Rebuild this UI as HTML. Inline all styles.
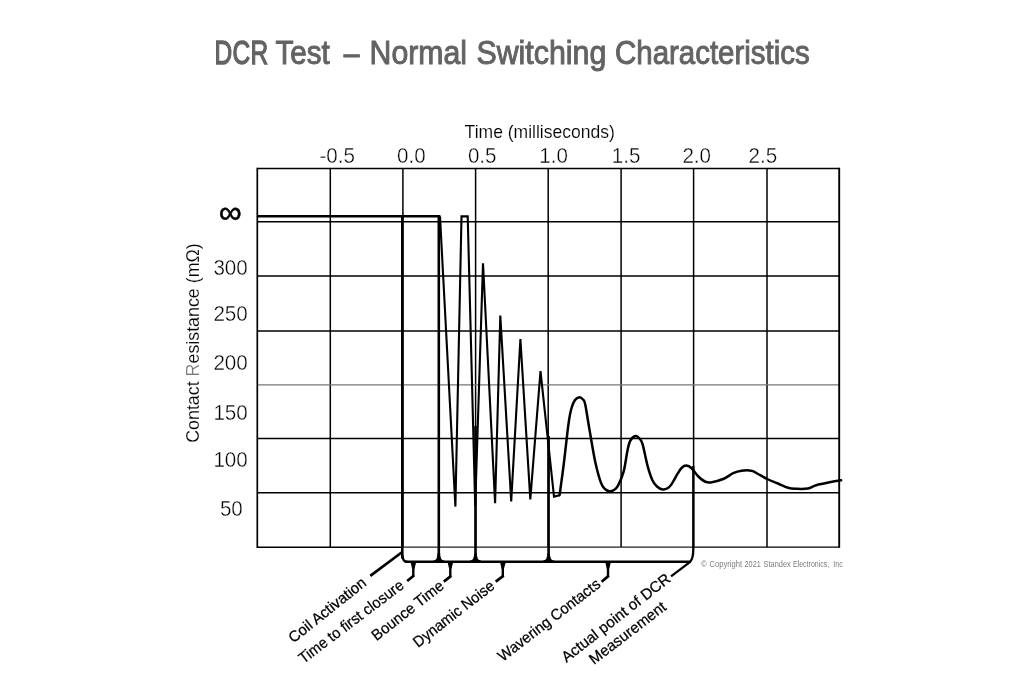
<!DOCTYPE html>
<html lang="en"><head><meta charset="utf-8"><title>DCR Test – Normal Switching Characteristics</title>
<style>html,body{margin:0;padding:0;background:#fff}body{width:1024px;height:683px;overflow:hidden}svg{display:block}text{font-family:"Liberation Sans",Arial,Helvetica,sans-serif}</style>
</head><body>
<svg width="1024" height="683" viewBox="0 0 1024 683">
<rect width="1024" height="683" fill="#fff"/>
<g id="title" fill="#636363" stroke="#636363" stroke-width="1.0" font-size="34">
<text stroke-width="1.35" transform="translate(214.5 64.0) scale(0.72 1)" textLength="74.7" lengthAdjust="spacing">DCR</text>
<text x="275.5" y="64.0" textLength="54.2" lengthAdjust="spacingAndGlyphs">Test</text>
<text x="343.7" y="64.0" textLength="15.7" lengthAdjust="spacingAndGlyphs">–</text>
<text x="369.6" y="64.0" textLength="97.4" lengthAdjust="spacingAndGlyphs">Normal</text>
<text x="476.4" y="64.0" textLength="129.9" lengthAdjust="spacingAndGlyphs">Switching</text>
<text x="615.0" y="64.0" textLength="194.7" lengthAdjust="spacingAndGlyphs">Characteristics</text>
</g>
<g id="grid" stroke="#000" stroke-width="1.5" fill="none">
<line x1="330.30" y1="168.5" x2="330.30" y2="547.2"/>
<line x1="402.90" y1="168.5" x2="402.90" y2="547.2"/>
<line x1="475.60" y1="168.5" x2="475.60" y2="547.2"/>
<line x1="548.20" y1="168.5" x2="548.20" y2="547.2"/>
<line x1="621.10" y1="168.5" x2="621.10" y2="547.2"/>
<line x1="693.60" y1="168.5" x2="693.60" y2="547.2"/>
<line x1="767.00" y1="168.5" x2="767.00" y2="547.2"/>
<line x1="257.3" y1="221.8" x2="839.20" y2="221.8"/>
<line x1="257.3" y1="276.1" x2="839.20" y2="276.1"/>
<line x1="257.3" y1="330.9" x2="839.20" y2="330.9"/>
<line x1="257.3" y1="384.9" x2="839.20" y2="384.9" stroke="#777" stroke-width="1.2"/>
<line x1="257.3" y1="438.4" x2="839.20" y2="438.4"/>
<line x1="257.3" y1="492.8" x2="839.20" y2="492.8"/>
<path stroke-width="1.7" d="M257.3 167.75 V547.9"/>
<path stroke-width="1.5" d="M257.3 168.5 H839.2"/>
<path stroke-width="1.9" d="M839.2 167.75 V547.85"/>
<path stroke-width="1.4" d="M257.3 547.2 H402.3"/>
<path stroke-width="1.3" d="M693.3 547.2 H839.2"/>
<path stroke-width="1.2" stroke="#222" d="M402.3 547.2 H693.3"/>
</g>
<g id="xlabels" fill="#000" font-size="22.4" stroke="#fff" stroke-width="0.4">
<text x="464.6" y="137.8" font-size="18.1" stroke-width="0.15" textLength="150.3" lengthAdjust="spacingAndGlyphs">Time (milliseconds)</text>
<text x="319.4" y="163.4" textLength="35.5" lengthAdjust="spacingAndGlyphs">-0.5</text>
<text x="397.1" y="163.4" textLength="28.6" lengthAdjust="spacingAndGlyphs">0.0</text>
<text x="467.9" y="163.4" textLength="28.6" lengthAdjust="spacingAndGlyphs">0.5</text>
<text x="539.3" y="163.4" textLength="28.6" lengthAdjust="spacingAndGlyphs">1.0</text>
<text x="611.8" y="163.4" textLength="28.6" lengthAdjust="spacingAndGlyphs">1.5</text>
<text x="682.4" y="163.4" textLength="28.6" lengthAdjust="spacingAndGlyphs">2.0</text>
<text x="748.6" y="163.4" textLength="28.6" lengthAdjust="spacingAndGlyphs">2.5</text>
</g>
<g id="ylabels" fill="#000" font-size="22.4" stroke="#fff" stroke-width="0.4">
<text x="213.4" y="275.4" textLength="34.4" lengthAdjust="spacingAndGlyphs">300</text>
<text x="213.4" y="321.2" textLength="34.4" lengthAdjust="spacingAndGlyphs">250</text>
<text x="213.4" y="370.2" textLength="34.4" lengthAdjust="spacingAndGlyphs">200</text>
<text x="213.4" y="420.0" textLength="34.4" lengthAdjust="spacingAndGlyphs">150</text>
<text x="213.4" y="466.5" textLength="34.4" lengthAdjust="spacingAndGlyphs">100</text>
<text x="219.9" y="515.6" textLength="22.9" lengthAdjust="spacingAndGlyphs">50</text>
</g>
<text id="inf" x="230.3" y="223.0" font-size="32" text-anchor="middle" fill="#000" stroke="#000" stroke-width="0.6">∞</text>
<text id="ytitle" transform="translate(198.6 442.8) rotate(-90)" font-size="18.4" fill="#000" stroke="#fff" stroke-width="0.15" textLength="199.6" lengthAdjust="spacingAndGlyphs">Contact <tspan fill="#777">R</tspan>esistance (mΩ)</text>
<g id="markers" stroke="#000" stroke-width="2.6" fill="none" stroke-linejoin="round" stroke-linecap="butt">
<path d="M257.3 216.3 H440.4"/>
<path d="M402.3 216.3 V558.5"/>
<path stroke-width="2.4" d="M402.3 554.7 Q402.5 561.7 407.1 561.7"/>
<path d="M438.8 216.3 V561.7"/>
<path stroke="none" fill="#000" d="M437.5 553.2 Q437.5 560.5 433.3 560.5 V562.95 H444.3 V560.5 Q440.1 560.5 440.1 553.2 Z"/>
<path d="M475.5 426 V561.7"/>
<path stroke="none" fill="#000" d="M474.2 553.2 Q474.2 560.5 470.0 560.5 V562.95 H481.0 V560.5 Q476.8 560.5 476.8 553.2 Z"/>
<path d="M548.6 436 V561.7"/>
<path stroke="none" fill="#000" d="M547.3 553.2 Q547.3 560.5 543.1 560.5 V562.95 H554.1 V560.5 Q549.9 560.5 549.9 553.2 Z"/>
<path stroke-width="2.5" d="M404.9 561.7 H690.5"/>
<path stroke-width="2.3" d="M693.3 466 V549 Q693.3 558.5 690.2 561.8 L671.0 576.4"/>
<path stroke-width="2.4" d="M413.3 561.7 V575.9"/>
<path stroke-width="2.7" d="M414.2 575.2 L407.2 581.0"/>
<path stroke="none" fill="#000" d="M410.3 561.1 H416.5 L414.5 568.7 H412.1 Z"/>
<path stroke-width="2.4" d="M450.3 561.7 V576.6"/>
<path stroke-width="2.7" d="M451.2 575.9 L443.8 581.6"/>
<path stroke="none" fill="#000" d="M447.3 561.1 H453.5 L451.5 568.7 H449.1 Z"/>
<path stroke-width="2.4" d="M502.8 561.7 V576.3"/>
<path stroke-width="2.7" d="M503.7 575.6 L495.7 581.6"/>
<path stroke="none" fill="#000" d="M499.8 561.1 H506.0 L504.0 568.7 H501.6 Z"/>
<path stroke-width="2.4" d="M608.0 561.7 V576.3"/>
<path stroke-width="2.7" d="M608.9 575.6 L601.6 581.7"/>
<path stroke="none" fill="#000" d="M605.0 561.1 H611.2 L609.2 568.7 H606.8 Z"/>
<path stroke-width="2.7" d="M401.6 552.5 L370.3 575.8"/>
</g>
<g id="wave" stroke="#000" fill="none" stroke-linejoin="miter" stroke-miterlimit="10">
<path stroke-width="2.1" d="M440 216.4 L455.4 506.6 L461.5 216.4 H467.7 L475.2 506 L483 263.2 L495.1 503.2 L500.3 315.6 L511.2 501.4 L520.4 339 L530.3 499.4 L540.5 371.2 L554 496.6 L559.6 495.2"/>
<path stroke-width="2.5" stroke-linecap="round" stroke-linejoin="round" d="M559.6 495.2 C560.3 489.9 562.3 475.6 563.8 463.7 C565.3 451.8 567.2 433.0 568.5 423.8 C569.8 414.6 570.3 412.5 571.4 408.5 C572.5 404.5 573.6 401.9 575 400 C576.4 398.1 578.3 397.4 579.6 397.3 C580.9 397.2 582.0 398.3 583 399.5 C584.0 400.7 584.2 399.4 585.3 404.7 C586.4 410.0 588.1 421.9 589.8 431.4 C591.4 440.9 593.4 453.2 595.2 461.8 C597.1 470.4 599.3 478.2 600.9 482.7 C602.5 487.2 603.6 487.6 605 489 C606.4 490.4 607.9 491.1 609.4 491.3 C610.9 491.5 612.6 490.9 614 490 C615.4 489.1 616.4 488.7 618 485.6 C619.6 482.5 622.1 477.2 623.7 471.3 C625.3 465.4 626.4 455.5 627.5 450.4 C628.6 445.3 629.0 442.9 630.4 440.5 C631.8 438.1 634.2 436.4 635.7 436.1 C637.2 435.8 638.3 437.1 639.5 438.5 C640.7 439.9 641.4 440.2 642.7 444.7 C644.0 449.2 645.9 459.7 647.5 465.6 C649.1 471.5 650.7 476.4 652.3 479.9 C653.9 483.4 655.3 484.9 657 486.5 C658.7 488.1 661.0 489.1 662.7 489.4 C664.4 489.7 665.6 489.3 667 488.5 C668.4 487.7 669.5 487.2 671.3 484.6 C673.1 482.1 676.1 476.1 677.9 473.2 C679.7 470.3 680.6 468.8 682 467.5 C683.4 466.2 684.8 465.5 686.4 465.6 C688.0 465.7 689.6 466.4 691.6 468.2 C693.6 470.0 696.1 474.3 698.3 476.5 C700.5 478.7 702.8 480.5 704.9 481.5 C707.0 482.5 707.7 482.8 710.7 482.4 C713.8 482.0 719.5 480.5 723.2 479 C727.0 477.5 730.2 474.6 733.2 473.2 C736.2 471.8 738.5 471.1 741.5 470.7 C744.5 470.3 748.6 470.1 751.4 470.7 C754.2 471.2 755.5 472.6 758.1 474 C760.7 475.4 763.9 477.4 767.2 479 C770.5 480.6 774.5 482.0 778 483.5 C781.5 485.0 785.0 486.9 788 487.8 C791.0 488.7 793.0 488.7 796.3 488.8 C799.6 488.9 804.6 489.1 807.9 488.5 C811.2 487.9 812.6 486.2 816.2 485.2 C819.8 484.2 825.4 483.1 829.5 482.3 C833.6 481.5 839.2 480.6 841.1 480.3"/>
</g>
<g id="blabels" fill="#000" font-size="15.3" stroke="#000" stroke-width="0.25">
<text transform="translate(293.5 643.4) rotate(-38.55)" textLength="94.5" lengthAdjust="spacingAndGlyphs">Coil Activation</text>
<text transform="translate(303.5 664) rotate(-37.1)" textLength="127.1" lengthAdjust="spacingAndGlyphs">Time to first closure</text>
<text transform="translate(376.6 641.2) rotate(-38.07)" textLength="86.8" lengthAdjust="spacingAndGlyphs">Bounce Time</text>
<text transform="translate(418.1 648) rotate(-37.85)" textLength="98.3" lengthAdjust="spacingAndGlyphs">Dynamic Noise</text>
<text transform="translate(502.8 661.9) rotate(-37.5)" textLength="124.5" lengthAdjust="spacingAndGlyphs">Wavering Contacts</text>
<text transform="translate(566.4 662.9) rotate(-38)" textLength="133.6" lengthAdjust="spacingAndGlyphs">Actual point of DCR</text>
<text transform="translate(594.1 665) rotate(-37.5)" textLength="92.2" lengthAdjust="spacingAndGlyphs">Measurement</text>
</g>
<g id="copyright" font-size="8.4" fill="#7d7d7d">
<text x="701.2" y="567.0" textLength="5.6" lengthAdjust="spacingAndGlyphs">©</text>
<text x="709.6" y="567.0" textLength="32.4" lengthAdjust="spacingAndGlyphs">Copyright</text>
<text x="744.6" y="567.0" textLength="16.1" lengthAdjust="spacingAndGlyphs">2021</text>
<text x="763.6" y="567.0" textLength="27.1" lengthAdjust="spacingAndGlyphs">Standex</text>
<text x="793.0" y="567.0" textLength="36.2" lengthAdjust="spacingAndGlyphs">Electronics,</text>
<text x="833.2" y="567.0" textLength="9.6" lengthAdjust="spacingAndGlyphs">Inc</text>
</g>
</svg></body></html>
